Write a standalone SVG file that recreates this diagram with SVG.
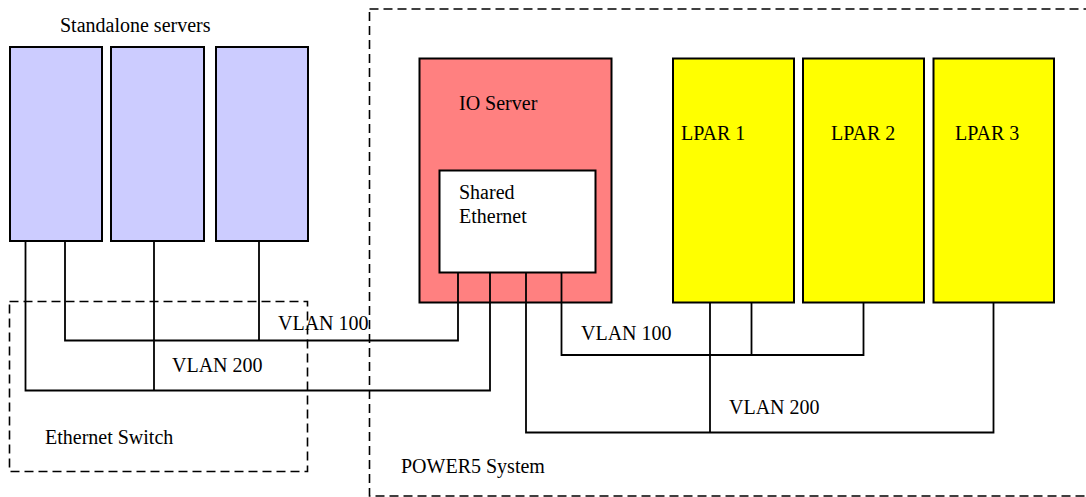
<svg xmlns="http://www.w3.org/2000/svg" width="1086" height="497" viewBox="0 0 1086 497">
  <style>
    .box { stroke: #000; stroke-width: 2; }
    .server { fill: #ccccff; }
    .io { fill: #ff8080; }
    .sea { fill: #ffffff; }
    .lpar { fill: #ffff00; }
    .frame { fill: none; stroke: #000; stroke-width: 1.6; stroke-dasharray: 9 5; }
    .wire { fill: none; stroke: #000; stroke-width: 1.8; }
    text { font-family: "Liberation Serif", "Times New Roman", serif; font-size: 20px; fill: #000; }
  </style>

  <rect width="1086" height="497" fill="#ffffff"/>

  <!-- enclosing regions -->
  <g id="power5-system">
    <rect class="frame" x="369.5" y="9" width="730" height="487"/>
    <text x="401" y="473">POWER5 System</text>
  </g>
  <g id="ethernet-switch">
    <rect class="frame" x="9.5" y="301.5" width="298" height="170"/>
    <text x="45" y="444">Ethernet Switch</text>
  </g>

  <!-- standalone servers -->
  <text x="60" y="32">Standalone servers</text>
  <g id="server-1"><rect class="box server" x="10" y="47" width="92" height="194"/></g>
  <g id="server-2"><rect class="box server" x="111" y="47" width="93" height="194"/></g>
  <g id="server-3"><rect class="box server" x="216" y="47" width="92" height="194"/></g>

  <!-- IO server with shared ethernet adapter -->
  <g id="io-server">
    <rect class="box io" x="419.5" y="58.5" width="192" height="244"/>
    <text x="459" y="110">IO Server</text>
  </g>
  <g id="shared-ethernet">
    <rect class="box sea" x="439.5" y="170.5" width="156" height="102"/>
    <text x="459" y="199">Shared</text>
    <text x="459" y="223">Ethernet</text>
  </g>

  <!-- logical partitions -->
  <g id="lpar-1">
    <rect class="box lpar" x="673" y="58.5" width="121" height="244"/>
    <text x="681" y="140">LPAR 1</text>
  </g>
  <g id="lpar-2">
    <rect class="box lpar" x="803" y="58.5" width="121" height="244"/>
    <text x="831" y="140">LPAR 2</text>
  </g>
  <g id="lpar-3">
    <rect class="box lpar" x="933.5" y="58.5" width="120.5" height="244"/>
    <text x="955" y="140">LPAR 3</text>
  </g>

  <!-- VLAN wiring -->
  <g id="connectors">
    <!-- VLAN 100, external side -->
    <polyline class="wire" points="65,241 65,340.5 458,340.5 458,272.5"/>
    <line class="wire" x1="154" y1="241" x2="154" y2="340.5"/>
    <line class="wire" x1="259" y1="241" x2="259" y2="340.5"/>
    <!-- VLAN 200, external side -->
    <polyline class="wire" points="25.5,241 25.5,390.5 490,390.5 490,272.5"/>
    <line class="wire" x1="154" y1="340.5" x2="154" y2="390.5"/>
    <!-- VLAN 100, partition side -->
    <polyline class="wire" points="561.5,272.5 561.5,355 863.5,355 863.5,302.5"/>
    <line class="wire" x1="751.5" y1="302.5" x2="751.5" y2="355"/>
    <!-- VLAN 200, partition side -->
    <polyline class="wire" points="526,272.5 526,432.5 993.5,432.5 993.5,302.5"/>
    <line class="wire" x1="710" y1="302.5" x2="710" y2="432.5"/>
  </g>

  <!-- VLAN labels -->
  <g id="vlan-labels">
    <text x="278" y="330">VLAN 100</text>
    <text x="172" y="372">VLAN 200</text>
    <text x="581" y="340">VLAN 100</text>
    <text x="729" y="414">VLAN 200</text>
  </g>
</svg>
